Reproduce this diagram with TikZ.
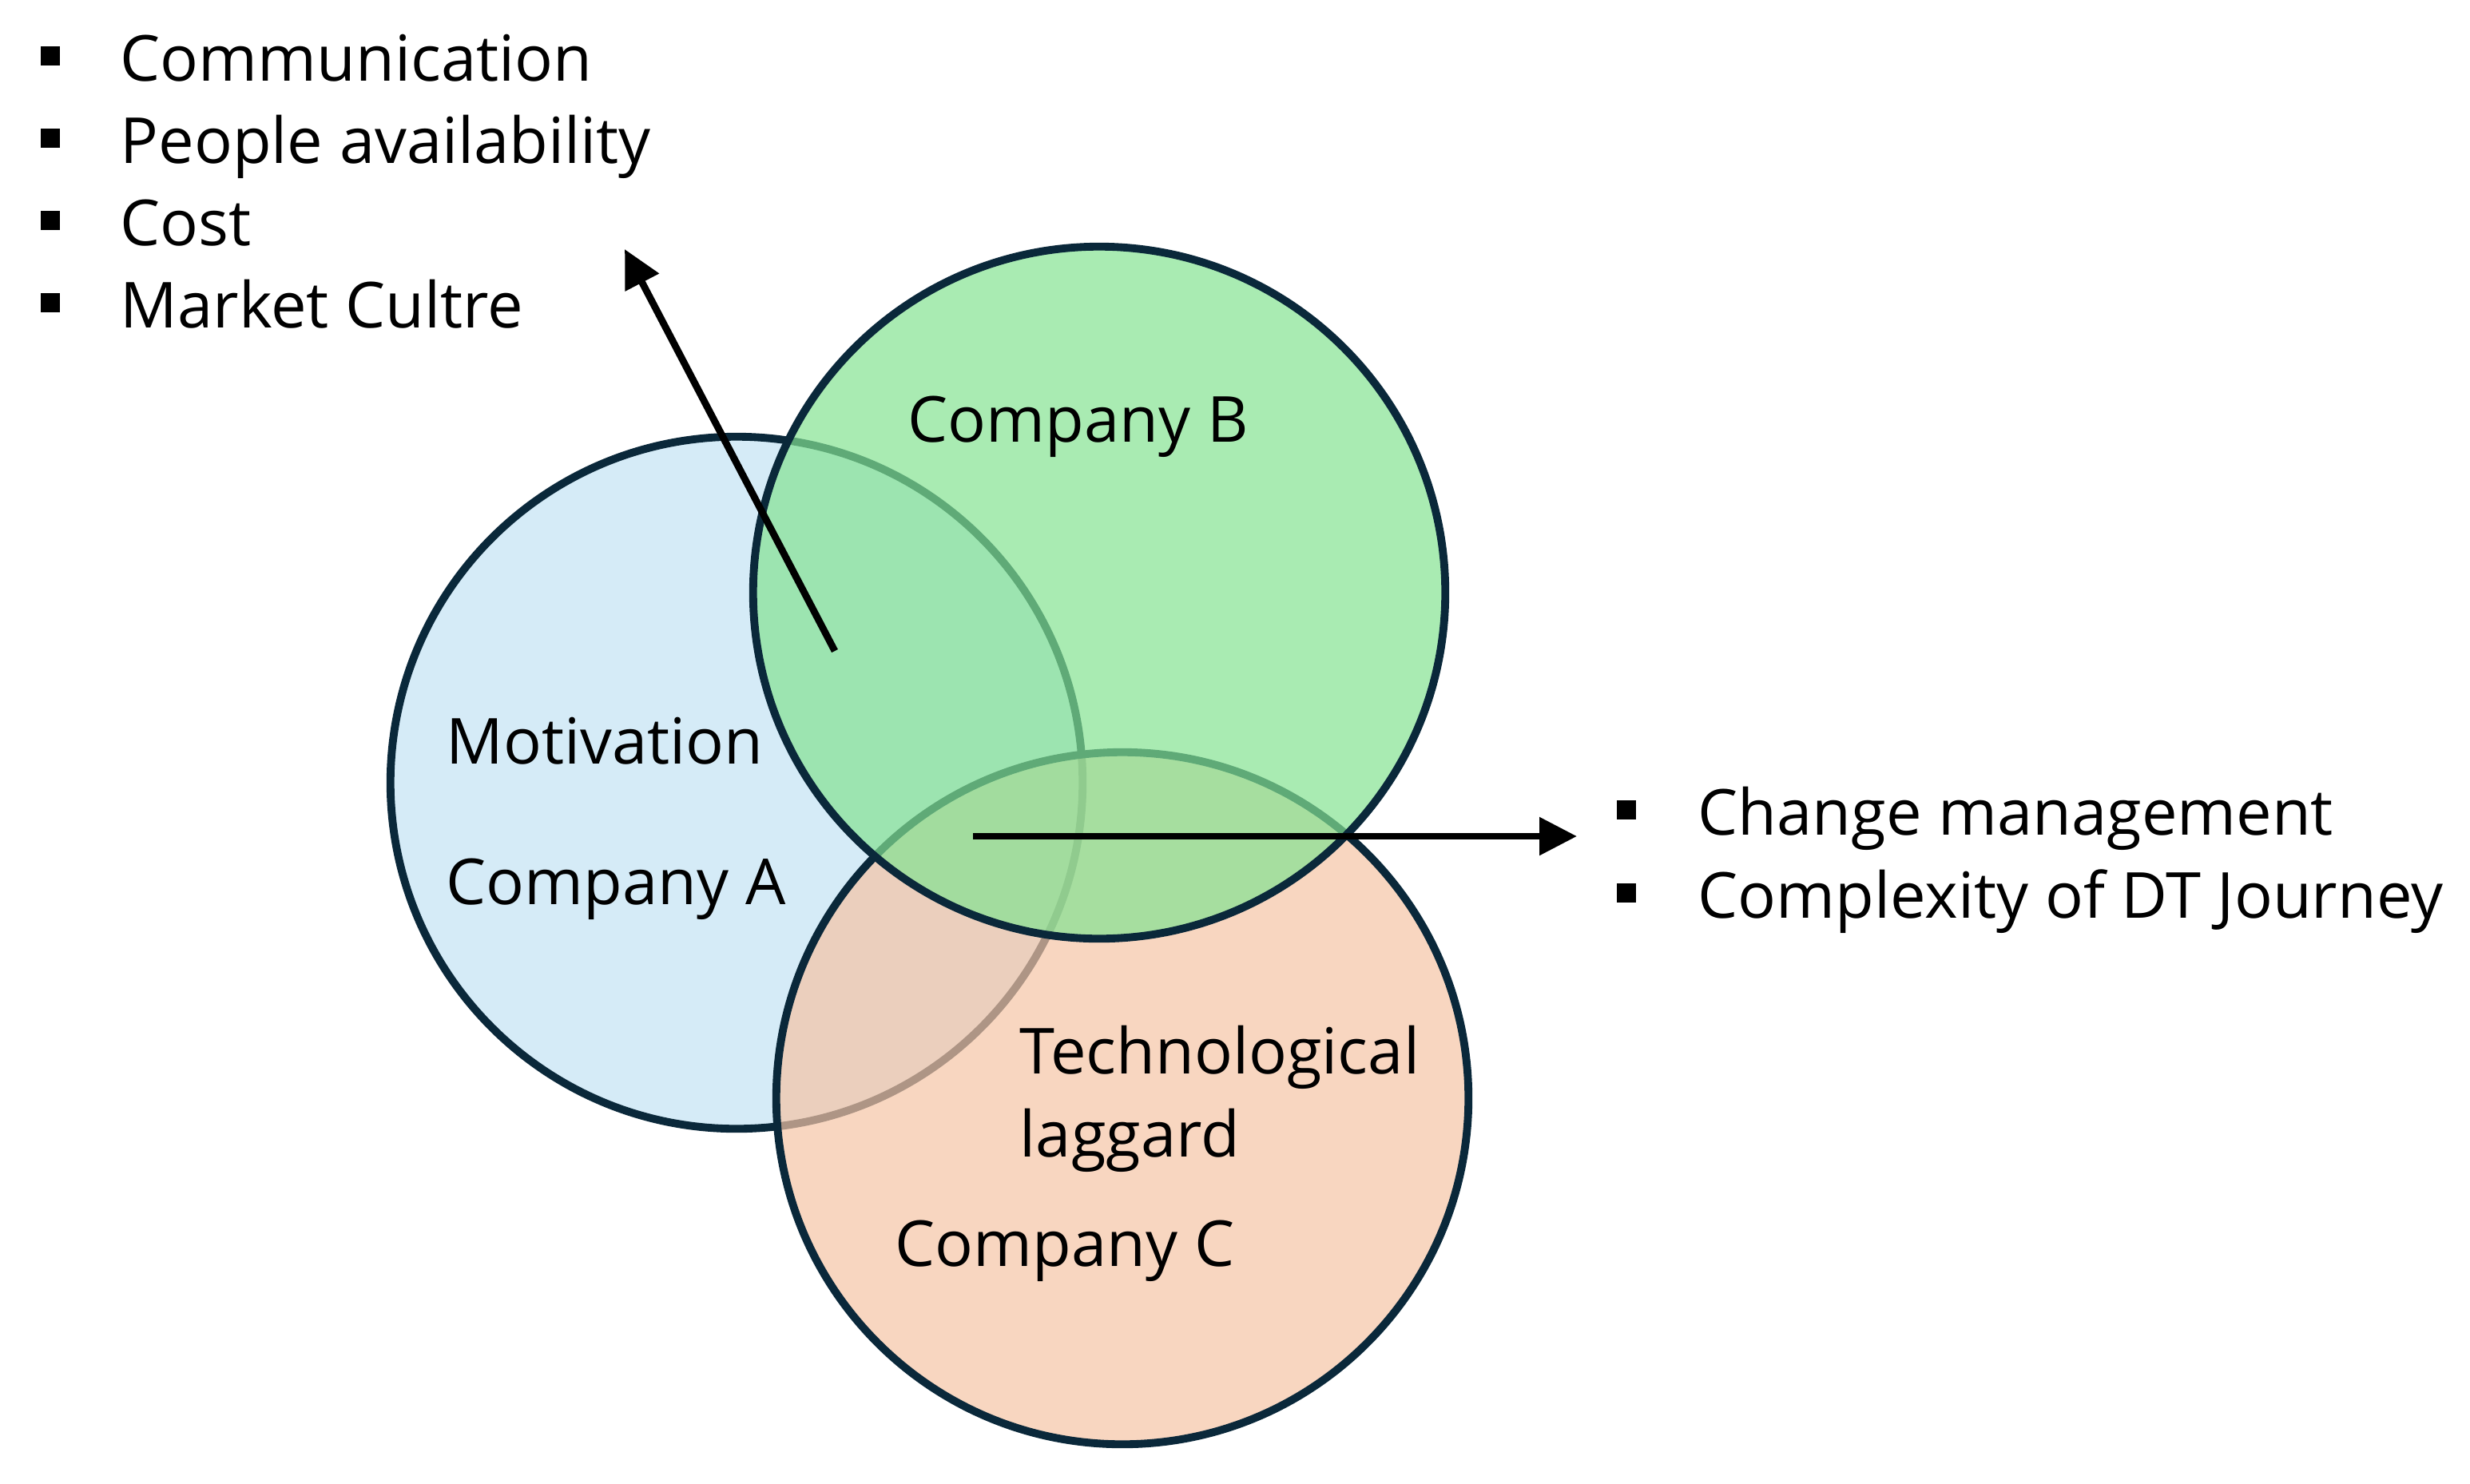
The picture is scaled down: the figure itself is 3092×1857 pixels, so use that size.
\documentclass[tikz,border=0pt]{standalone}
\usepackage{fontspec}
\setmainfont{Open Sans}
\usetikzlibrary{arrows.meta}
\definecolor{outl}{RGB}{10,40,58}
\definecolor{fillA}{RGB}{213,235,247}
\definecolor{fillB}{RGB}{132,226,146}
\definecolor{fillC}{RGB}{245,196,165}
\tikzset{
  circ/.style={circle, draw=outl, line width=2.8pt, minimum size=8.66cm, inner sep=0pt},
  lbl/.style={anchor=base west, inner sep=0pt, font=\fontsize{22.6pt}{27pt}\selectfont},
  bulletsq/.style={fill=black, minimum size=0.24cm, inner sep=0pt},
  arr/.style={line width=2.5pt, -{Triangle[length=0.47cm, width=0.46cm]}}
}
\begin{document}
\begin{tikzpicture}[x=0.01cm, y=-0.01cm]
\useasboundingbox (0,0) rectangle (3092,1857);
% circles
\node[circ, fill=fillA] (A) at (922,980) {};
\node[circ, fill=fillC, fill opacity=0.7] (C) at (1405,1375) {};
\node[circ, fill=fillB, fill opacity=0.7] (B) at (1376,742) {};
% circle labels
\node[lbl] (lB) at (1136,553) {Company B};
\node[lbl] (lM) at (558,956) {Motivation};
\node[lbl] (lA) at (558,1132) {Company A};
\node[lbl] (lT) at (1276,1344) {Technological};
\node[lbl] (lL) at (1276,1448) {laggard};
\node[lbl] (lC) at (1120,1585) {Company C};
% left list
\node[bulletsq] (b1) at (63,70) {};
\node[bulletsq] (b2) at (63,173) {};
\node[bulletsq] (b3) at (63,276) {};
\node[bulletsq] (b4) at (63,379) {};
\node[lbl] (t1) at (150,101) {Communication};
\node[lbl] (t2) at (150,204) {People availability};
\node[lbl] (t3) at (150,307) {Cost};
\node[lbl] (t4) at (150,410) {Market Cultre};
% right list
\node[bulletsq] (r1) at (2036,1014) {};
\node[bulletsq] (r2) at (2036,1118) {};
\node[lbl] (s1) at (2125,1045) {Change management};
\node[lbl] (s2) at (2125,1149) {Complexity of DT Journey};
% arrows
\coordinate (p1) at (1045,815);
\coordinate (q1) at (782,312);
\coordinate (p2) at (1218,1047);
\coordinate (q2) at (1974,1047);
\draw[arr] (p1) -- (q1);
\draw[arr] (p2) -- (q2);
\end{tikzpicture}
\end{document}
